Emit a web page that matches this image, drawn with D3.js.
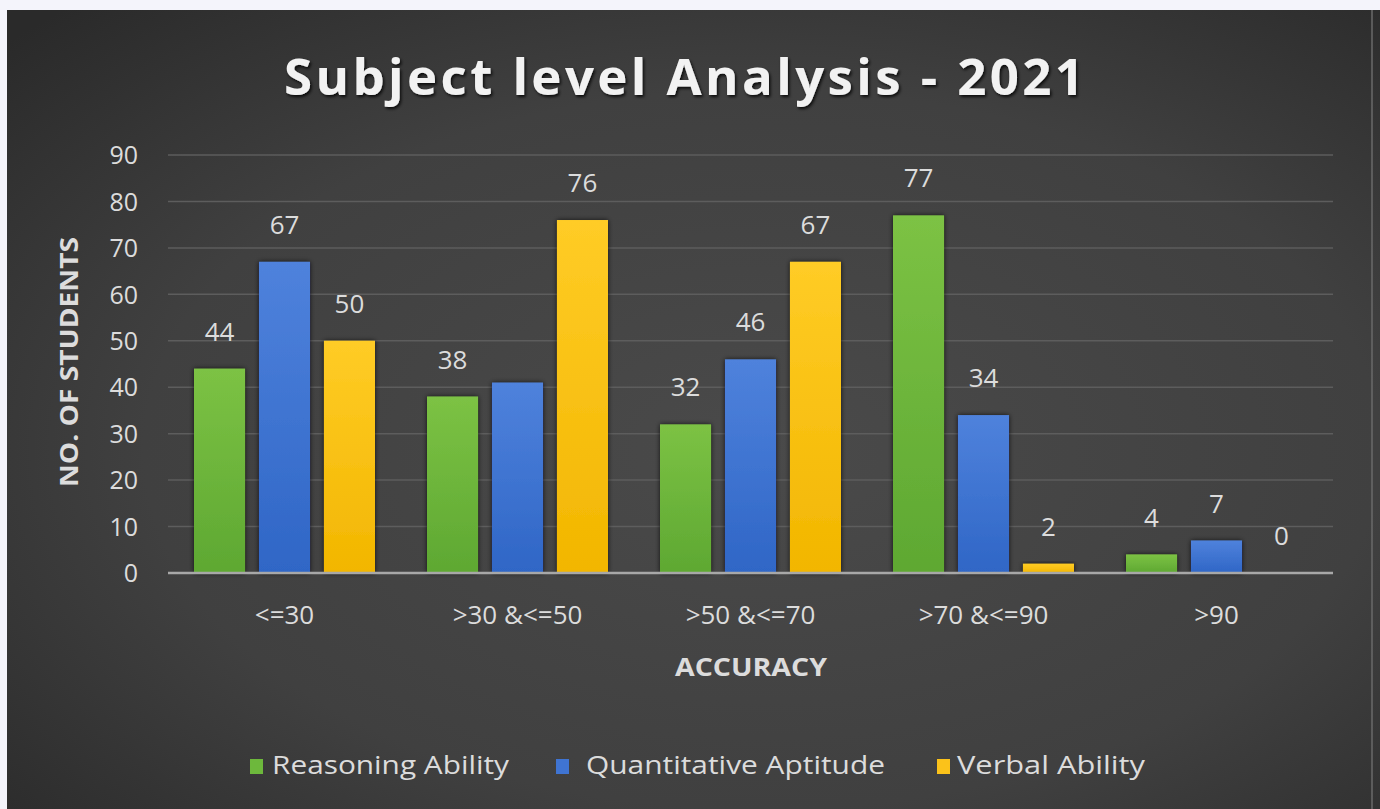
<!DOCTYPE html>
<html>
<head>
<meta charset="utf-8">
<script src="https://cdn.jsdelivr.net/npm/d3@7"></script>
<style>
  html, body { margin: 0; padding: 0; background: #ffffff; }
  svg { display: block; }
  text { font-family: "Open Sans", "DejaVu Sans", sans-serif; }
</style>
</head>
<body>
<svg id="chart" width="1380" height="809"></svg>
<script>
// ---- data ----
const categories = ["<=30", ">30 &<=50", ">50 &<=70", ">70 &<=90", ">90"];
const seriesNames = ["Reasoning Ability", "Quantitative Aptitude", "Verbal Ability"];
const reasoning = [44, 38, 32, 77, 4];
const quantitative = [67, 41, 46, 34, 7];
const verbal = [50, 76, 67, 2, 0];
const showLabelReasoning = [true, true, true, true, true];
const showLabelQuantitative = [true, false, true, true, true];
const showLabelVerbal = [true, true, true, true, true];
const yTicks = [0, 10, 20, 30, 40, 50, 60, 70, 80, 90];
const titleText = "Subject level Analysis - 2021";
const yTitle = "NO. OF STUDENTS";
const xTitle = "ACCURACY";

const seriesValues = [reasoning, quantitative, verbal];
const seriesShow = [showLabelReasoning, showLabelQuantitative, showLabelVerbal];
const colorsTop = ["#7cc244", "#4f82dc", "#ffcc26"];
const colorsBot = ["#5ea832", "#2f66c6", "#f2b600"];
const legendColors = ["#6db83c", "#3f74d2", "#fbc21a"];

const svg = d3.select("#chart");
const defs = svg.append("defs");

// background gradient
const bg = defs.append("radialGradient").attr("id", "bgGrad")
  .attr("cx", "0.55").attr("cy", "0.55").attr("r", "0.75");
bg.append("stop").attr("offset", "0%").attr("stop-color", "#4a4a4a");
bg.append("stop").attr("offset", "60%").attr("stop-color", "#404040");
bg.append("stop").attr("offset", "100%").attr("stop-color", "#2a2a2a");

colorsTop.forEach((c, i) => {
  const g = defs.append("linearGradient").attr("id", "barGrad" + i)
    .attr("x1", 0).attr("y1", 0).attr("x2", 0).attr("y2", 1);
  g.append("stop").attr("offset", "0%").attr("stop-color", c);
  g.append("stop").attr("offset", "100%").attr("stop-color", colorsBot[i]);
});

const shadow = defs.append("filter").attr("id", "barShadow")
  .attr("x", "-20%").attr("y", "-20%").attr("width", "140%").attr("height", "140%");
shadow.append("feDropShadow").attr("dx", 0).attr("dy", 0).attr("stdDeviation", 2.5)
  .attr("flood-color", "#000").attr("flood-opacity", 0.75);

const tshadow = defs.append("filter").attr("id", "textShadow")
  .attr("x", "-10%").attr("y", "-30%").attr("width", "120%").attr("height", "160%");
tshadow.append("feDropShadow").attr("dx", 1.5).attr("dy", 2).attr("stdDeviation", 1.5)
  .attr("flood-color", "#000").attr("flood-opacity", 0.8);

// background panel
svg.append("rect").attr("x", 0).attr("y", 0).attr("width", 1380).attr("height", 809).attr("fill", "#f4f4fb");
svg.append("rect").attr("x", 7).attr("y", 10).attr("width", 1373).attr("height", 799).attr("fill", "url(#bgGrad)");
svg.append("line").attr("x1", 1372).attr("x2", 1372).attr("y1", 10).attr("y2", 809)
  .attr("stroke", "#6a6a6a").attr("stroke-width", 1.5);

// scales
const plotLeft = 168, plotRight = 1333, plotTop = 155, plotBottom = 573;
const x = d3.scaleBand().domain(categories).range([plotLeft, plotRight]).paddingInner(0).paddingOuter(0);
const y = d3.scaleLinear().domain([0, 90]).range([plotBottom, plotTop]);
const groupWidth = 181;
const xs = d3.scaleBand().domain(d3.range(seriesNames.length)).range([0, groupWidth]).paddingInner(0.215).paddingOuter(0);

// gridlines
svg.append("g").selectAll("line").data(yTicks.filter(t => t > 0)).join("line")
  .attr("x1", plotLeft).attr("x2", plotRight)
  .attr("y1", d => y(d)).attr("y2", d => y(d))
  .attr("stroke", "#5d5d5d").attr("stroke-width", 1.5);

// y axis
const yAxis = svg.append("g").attr("transform", `translate(${138},0)`)
  .call(d3.axisLeft(y).tickValues(yTicks).tickSize(0).tickPadding(0));
yAxis.select(".domain").remove();
yAxis.selectAll("text").attr("fill", "#dcdcdc").attr("font-size", 25).attr("dy", "0.35em")
  .attr("font-family", "Open Sans, sans-serif");

// bars
seriesNames.forEach((s, si) => {
  const vals = seriesValues[si];
  svg.append("g").selectAll("rect").data(categories).join("rect")
    .attr("x", (c) => x(c) + x.bandwidth() / 2 - groupWidth / 2 + xs(si))
    .attr("y", (c, i) => y(vals[i]))
    .attr("width", xs.bandwidth())
    .attr("height", (c, i) => y(0) - y(vals[i]))
    .attr("fill", `url(#barGrad${si})`)
    .attr("filter", "url(#barShadow)");
});

// baseline
svg.append("line").attr("x1", plotLeft).attr("x2", plotRight)
  .attr("y1", y(0)).attr("y2", y(0)).attr("stroke", "#a8a8a8").attr("stroke-width", 2.5);

// data labels
seriesNames.forEach((s, si) => {
  const vals = seriesValues[si];
  const show = seriesShow[si];
  svg.append("g").selectAll("text").data(categories.filter((c, i) => show[i])).join("text")
    .attr("x", (c) => x(c) + x.bandwidth() / 2 - groupWidth / 2 + xs(si) + xs.bandwidth() / 2)
    .attr("y", (c) => y(vals[categories.indexOf(c)]) - 37)
    .attr("dy", "0.35em")
    .attr("text-anchor", "middle")
    .attr("fill", "#dcdcdc").attr("font-size", 26)
    .text((c) => vals[categories.indexOf(c)]);
});

// x axis labels
const xAxis = svg.append("g").attr("transform", `translate(0,${603})`)
  .call(d3.axisBottom(x).tickSize(0).tickPadding(0));
xAxis.select(".domain").remove();
xAxis.selectAll("text").attr("fill", "#dcdcdc").attr("font-size", 26).attr("dy", "0.35em")
  .attr("y", 12).attr("font-family", "Open Sans, sans-serif");

// axis titles
svg.append("text").attr("x", 751).attr("y", 667).attr("dy", "0.35em")
  .attr("text-anchor", "middle").attr("fill", "#dcdcdc")
  .attr("font-size", 25).attr("font-weight", "bold")
  .attr("textLength", 152).attr("lengthAdjust", "spacingAndGlyphs")
  .text(xTitle);

svg.append("text").attr("transform", "translate(69,362) rotate(-90)")
  .attr("dy", "0.35em").attr("text-anchor", "middle").attr("fill", "#dcdcdc")
  .attr("font-size", 25).attr("font-weight", "bold")
  .attr("textLength", 250).attr("lengthAdjust", "spacingAndGlyphs")
  .text(yTitle);

// title
svg.append("text").attr("x", 684).attr("y", 95)
  .attr("text-anchor", "middle").attr("fill", "#f2f2f2")
  .attr("font-family", "Lato, 'Open Sans', sans-serif")
  .attr("font-size", 51).attr("font-weight", 700)
  .attr("textLength", 800).attr("lengthAdjust", "spacing")
  .attr("filter", "url(#textShadow)")
  .text(titleText);

// legend
const legendItems = [
  { sq: 250, tx: 272, tl: 237 },
  { sq: 556, tx: 586, tl: 299 },
  { sq: 937, tx: 957, tl: 188 }
];
const legend = svg.append("g");
seriesNames.forEach((s, i) => {
  const li = legendItems[i];
  legend.append("rect").attr("x", li.sq).attr("y", 759).attr("width", 13).attr("height", 15)
    .attr("fill", legendColors[i]);
  legend.append("text").attr("x", li.tx).attr("y", 765).attr("dy", "0.35em")
    .attr("fill", "#dcdcdc").attr("font-size", 26)
    .attr("textLength", li.tl).attr("lengthAdjust", "spacingAndGlyphs")
    .text(s);
});
</script>
</body>
</html>
